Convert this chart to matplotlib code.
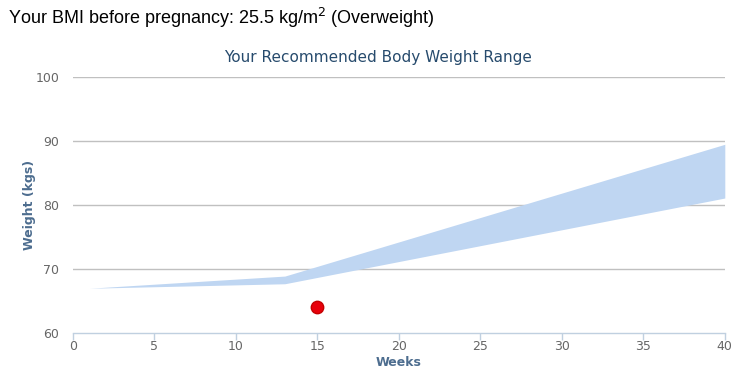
import matplotlib
matplotlib.use('Agg')
import matplotlib.pyplot as plt

# Recommended weight band (weeks vs kg) and current measurement
weeks = [1, 13, 40]
upper_kg = [67.0, 68.9, 89.5]
lower_kg = [67.0, 67.7, 81.1]
current_week = [15]
current_kg = [64.1]

x_ticks = [0, 5, 10, 15, 20, 25, 30, 35, 40]
y_ticks = [60, 70, 80, 90, 100]

fig = plt.figure(figsize=(7.55, 3.78), dpi=100)
ax = fig.add_axes([0.0967, 0.119, 0.8633, 0.677])

ax.fill_between(weeks, lower_kg, upper_kg, color='#bfd6f2', linewidth=0, zorder=2)
ax.scatter(current_week, current_kg, s=80, color='#e8000b', edgecolors='#c40000',
           linewidths=1, zorder=3)

ax.set_xlim(0, 40)
ax.set_ylim(60, 100)
ax.set_xticks(x_ticks)
ax.set_yticks(y_ticks)

# gridlines
for v in y_ticks[1:]:
    ax.axhline(v, color='#c0c0c0', linewidth=1, zorder=1)

for s in ['left', 'right', 'top']:
    ax.spines[s].set_visible(False)
ax.spines['bottom'].set_color('#c0d0e0')
ax.spines['bottom'].set_linewidth(1)

ax.tick_params(axis='x', colors='#c0d0e0', length=5, width=1, pad=0,
               labelcolor='#666666', labelsize=9)
ax.tick_params(axis='y', length=0, pad=10, labelcolor='#666666', labelsize=9)

ax.set_xlabel('Weeks', color='#4d6d8f', fontweight='bold', fontsize=9, labelpad=2)
ax.set_ylabel('Weight (kgs)', color='#4d6d8f', fontweight='bold', fontsize=9, labelpad=8)
ax.yaxis.set_label_coords(-0.057, 0.5)

fig.text(0.5, 0.848, 'Your Recommended Body Weight Range', ha='center', va='center',
         color='#274b6d', fontsize=11)
fig.text(0.01, 0.952, 'Your BMI before pregnancy: 25.5 kg/m$^2$ (Overweight)',
         ha='left', va='center', color='black', fontsize=13, family='Liberation Sans')

fig.savefig('out.png', dpi=100)
